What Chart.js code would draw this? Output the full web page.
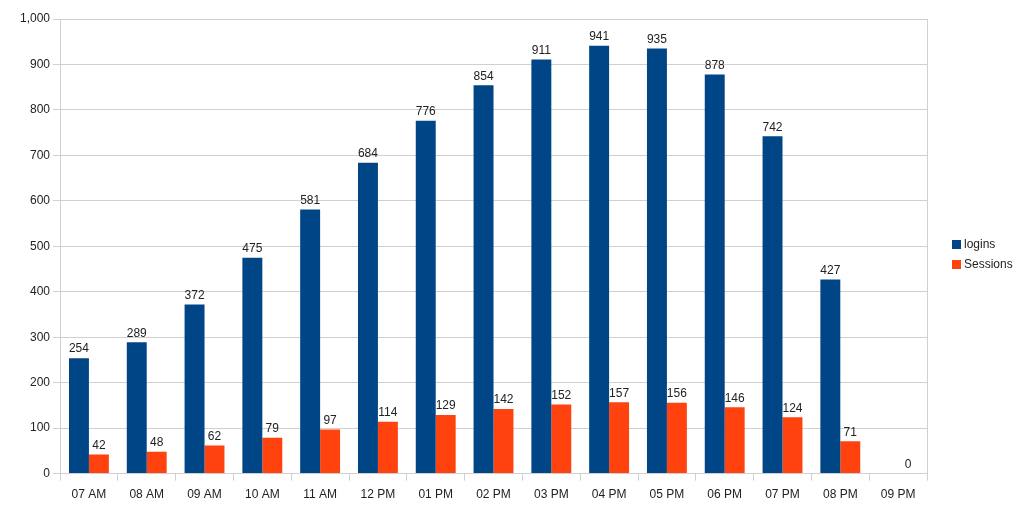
<!DOCTYPE html>
<html>
<head>
<meta charset="utf-8">
<script src="https://cdn.jsdelivr.net/npm/chart.js@4/dist/chart.umd.min.js"></script>
<style>
  html, body { margin: 0; padding: 0; background: #fff; }
  #wrap { width: 1024px; height: 512px; }
</style>
</head>
<body>
<div id="wrap"><canvas id="loginChart"></canvas></div>
<script>
// Hour labels along the x axis
const hours = ["07 AM", "08 AM", "09 AM", "10 AM", "11 AM", "12 PM", "01 PM", "02 PM",
               "03 PM", "04 PM", "05 PM", "06 PM", "07 PM", "08 PM", "09 PM"];

// Series values
const logins = [254, 289, 372, 475, 581, 684, 776, 854, 911, 941, 935, 878, 742, 427, null];
const sessions = [42, 48, 62, 79, 97, 114, 129, 142, 152, 157, 156, 146, 124, 71, 0];

const gridGray = "#d0d0d0";
const fontFamily = "'Liberation Sans', Arial, sans-serif";

// Draws the value above each bar, like the office chart does
const valueLabels = {
    id: "valueLabels",
    afterDatasetsDraw(chart) {
        const ctx = chart.ctx;
        ctx.save();
        ctx.font = "12px " + fontFamily;
        ctx.fillStyle = "#222";
        ctx.textAlign = "center";
        ctx.textBaseline = "bottom";
        chart.data.datasets.forEach((ds, i) => {
            chart.getDatasetMeta(i).data.forEach((bar, j) => {
                const v = ds.data[j];
                if (v === null || v === undefined) return;
                ctx.fillText(v.toLocaleString("en-US"), bar.x, bar.y - 3);
            });
        });
        ctx.restore();
    }
};

// Right-hand border of the plot area plus the legend beside it
const plotExtras = {
    id: "plotExtras",
    beforeDatasetsDraw(chart) {
        const { ctx, chartArea } = chart;
        ctx.save();
        ctx.strokeStyle = gridGray;
        ctx.lineWidth = 1;
        ctx.beginPath();
        ctx.moveTo(Math.round(chartArea.right) + 0.5, chartArea.top);
        ctx.lineTo(Math.round(chartArea.right) + 0.5, chartArea.bottom);
        ctx.stroke();
        ctx.restore();
    },
    afterDraw(chart) {
        const { ctx, chartArea } = chart;
        const x = chartArea.right + 25;
        let y = 245;
        ctx.save();
        ctx.font = "12px " + fontFamily;
        ctx.textBaseline = "middle";
        ctx.textAlign = "left";
        chart.data.datasets.forEach(ds => {
            ctx.fillStyle = ds.backgroundColor;
            ctx.fillRect(x, y - 5, 9, 9);
            ctx.fillStyle = "#222";
            ctx.fillText(ds.label, x + 12, y);
            y += 20;
        });
        ctx.restore();
    }
};

Chart.defaults.font.family = fontFamily;
Chart.defaults.font.size = 12;
Chart.defaults.color = "#333";

new Chart(document.getElementById("loginChart"), {
    type: "bar",
    data: {
        labels: hours,
        datasets: [
            {
                label: "logins",
                data: logins,
                backgroundColor: "#004586",
                categoryPercentage: 0.69,
                barPercentage: 1.0
            },
            {
                label: "Sessions",
                data: sessions,
                backgroundColor: "#ff420e",
                categoryPercentage: 0.69,
                barPercentage: 1.0
            }
        ]
    },
    options: {
        responsive: true,
        maintainAspectRatio: false,
        animation: false,
        layout: { padding: { top: 19, left: 17, right: 97, bottom: 3 } },
        plugins: {
            tooltip: { enabled: false },
            legend: { display: false }
        },
        scales: {
            x: {
                grid: {
                    offset: true,
                    drawOnChartArea: false,
                    drawTicks: true,
                    tickLength: 7,
                    color: gridGray
                },
                border: { color: gridGray },
                ticks: { color: "#222", padding: 7, font: { size: 12 } }
            },
            y: {
                min: 0,
                max: 1000,
                ticks: {
                    stepSize: 100,
                    color: "#222",
                    padding: 3,
                    callback: v => v.toLocaleString("en-US")
                },
                grid: { color: gridGray, tickLength: 7 },
                border: { color: gridGray }
            }
        }
    },
    plugins: [valueLabels, plotExtras]
});
</script>
</body>
</html>
